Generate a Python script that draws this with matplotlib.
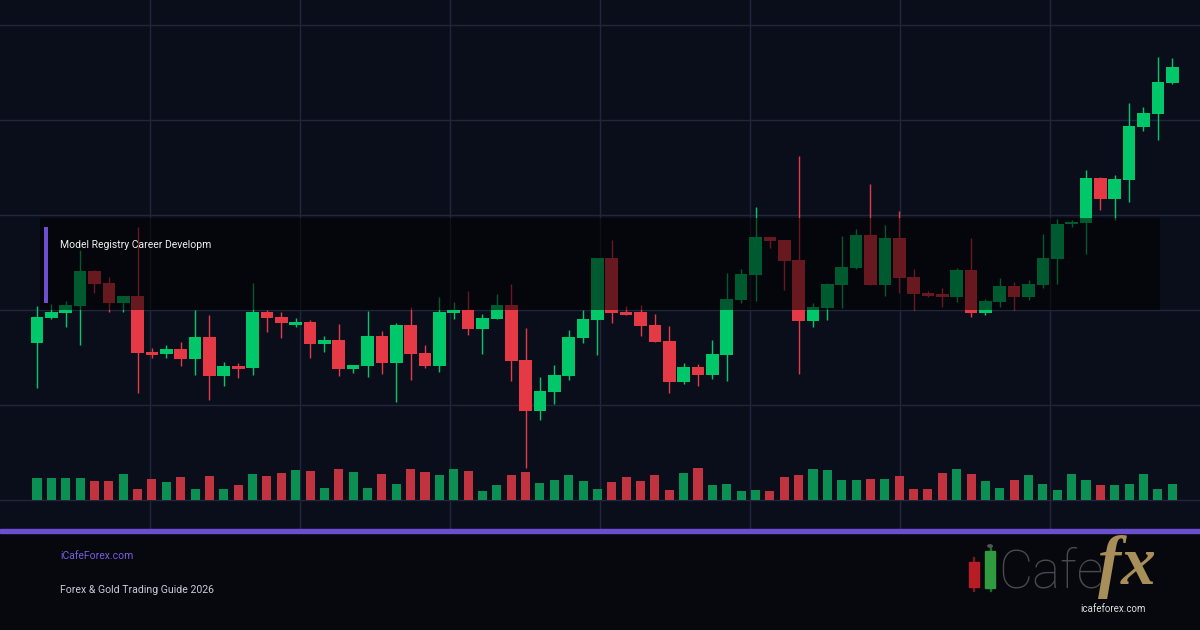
import matplotlib
matplotlib.use('Agg')
import matplotlib.pyplot as plt
import matplotlib.patches as patches
import numpy as np

# Candle data (price units)
opens = [287, 312, 317, 324, 359, 347, 327, 334, 278, 276,
         281, 271, 293, 254, 264, 262, 318, 313, 305, 308,
         286, 290, 261, 264, 294, 267, 305, 277, 264, 317,
         320, 301, 311, 325, 270, 219, 238, 254, 292, 310,
         372, 318, 318, 305, 289, 248, 263, 255, 275, 330,
         355, 393, 390, 370, 309, 322, 345, 362, 395, 345,
         392, 353, 337, 336, 333, 360, 317, 328, 344, 333,
         345, 371, 406, 407, 452, 431, 450, 503, 516, 547]
highs = [324, 326, 329, 380, 360, 353, 334, 403, 282, 285,
         288, 320, 315, 268, 267, 347, 320, 318, 312, 310,
         294, 306, 265, 319, 299, 307, 323, 285, 333, 328,
         339, 316, 336, 346, 302, 253, 265, 300, 320, 372,
         390, 324, 325, 316, 304, 267, 266, 290, 357, 361,
         423, 393, 390, 474, 327, 347, 394, 401, 446, 405,
         419, 361, 339, 342, 362, 392, 331, 352, 348, 350,
         396, 411, 410, 460, 453, 455, 527, 523, 573, 572]
lows = [242, 311, 303, 285, 337, 318, 318, 237, 272, 272,
        264, 255, 230, 244, 252, 255, 298, 292, 303, 272,
        278, 254, 257, 253, 256, 228, 250, 262, 258, 311,
        295, 276, 311, 249, 162, 210, 226, 250, 287, 275,
        307, 315, 294, 288, 237, 246, 244, 251, 249, 327,
        329, 382, 340, 256, 303, 310, 322, 361, 345, 334,
        337, 320, 333, 323, 328, 313, 315, 323, 320, 330,
        342, 346, 403, 376, 420, 410, 428, 499, 490, 546]
closes = [313, 318, 325, 359, 346, 327, 334, 277, 275, 281,
          271, 293, 254, 264, 261, 318, 312, 307, 308, 286,
          290, 261, 265, 294, 267, 305, 276, 264, 318, 320,
          301, 312, 325, 269, 219, 239, 255, 293, 311, 372,
          317, 315, 304, 288, 248, 263, 255, 276, 331, 356,
          393, 389, 369, 309, 323, 346, 363, 395, 345, 392,
          352, 336, 334, 333, 360, 317, 329, 344, 333, 346,
          372, 406, 408, 452, 431, 451, 504, 517, 548, 563]
volumes = [22, 22, 22, 22, 19, 19, 26, 11, 21, 18,
           23, 11, 24, 11, 15, 26, 24, 27, 30, 29,
           12, 31, 28, 12, 26, 16, 31, 28, 25, 31,
           29, 9, 15, 25, 28, 17, 20, 25, 19, 11,
           18, 23, 19, 25, 10, 27, 32, 15, 16, 9,
           10, 9, 23, 25, 31, 30, 20, 20, 21, 21,
           24, 11, 11, 27, 31, 26, 19, 12, 20, 25,
           16, 10, 26, 20, 15, 15, 16, 26, 11, 16]

title = 'Model Registry Career Developm'
site_label = 'iCafeForex.com'
footer_label = 'Forex & Gold Trading Guide 2026'

# Colours
BG = '#0a0e1b'
FOOT_BG = '#06080e'
GRID = '#20273b'
UP = '#00c86a'
DOWN = '#e63946'
UP_VOL = '#0b8f52'
DOWN_VOL = '#c0333f'
PURPLE = '#6b4fcf'
FONT = ['Roboto', 'DejaVu Sans']

W, H = 1200, 630
X0, DX = 37, 14.37  # first candle centre / spacing in pixels

fig = plt.figure(figsize=(12, 6.3), dpi=100, facecolor=BG)


def fx(px):
    return px / W


def fy(py):
    return 1 - py / H


# footer background + purple divider
fig.add_artist(patches.Rectangle((0, 0), 1, fy(531), transform=fig.transFigure,
                                 color=FOOT_BG, zorder=0))
fig.add_artist(patches.Rectangle((0, fy(533)), 1, 4 / H, transform=fig.transFigure,
                                 color=PURPLE, zorder=1))

# price axes: covers the top 530 px
ax = fig.add_axes([0, fy(530), 1, 530 / H])
ax.set_facecolor(BG)
ax.set_xlim(-X0 / DX, (W - X0) / DX)
ax.set_ylim(100, 630)
for s in ax.spines.values():
    s.set_visible(False)
ax.set_xticks([(px - X0) / DX for px in range(150, 1200, 150)])
ax.set_yticks([630 - py for py in (25, 120, 215, 310, 405, 500)])
ax.tick_params(length=0, labelbottom=False, labelleft=False)
ax.grid(True, color=GRID, lw=1)
ax.set_axisbelow(True)

o = np.array(opens)
h = np.array(highs)
l = np.array(lows)
c = np.array(closes)
idx = np.arange(len(o))
up = c >= o
cols = np.where(up, UP, DOWN)

ax.vlines(idx, l, h, colors=cols, lw=1, zorder=2)
body_lo = np.minimum(o, c)
body_h = np.maximum(np.abs(c - o), 2)
ax.bar(idx, body_h, bottom=body_lo, width=0.88, color=cols, zorder=3)

# dim overlay band behind the title
ax.add_patch(patches.Rectangle((fx(40), fy(310)), fx(1160) - fx(40), 92 / H,
                               transform=fig.transFigure, facecolor='black',
                               alpha=0.55, lw=0, zorder=4))
ax.add_patch(patches.Rectangle((fx(44), fy(303)), 3.5 / W, 76 / H,
                               transform=fig.transFigure, facecolor=PURPLE,
                               lw=0, zorder=5))
fig.text(fx(60), fy(245), title, color='#f0f0f0', fontsize=7.5,
         family=FONT, va='center', ha='left', zorder=6)

# volume on a twin axis, baseline on the 500 px grid line
vax = ax.twinx()
vax.set_ylim(-30, 500)
vax.axis('off')
vax.bar(idx, volumes, width=0.63, color=np.where(up, UP_VOL, DOWN_VOL), zorder=2)

# footer text
fig.text(fx(60), fy(556), site_label, color='#7a5ce0', fontsize=7.5,
         family=FONT, va='center', ha='left')
fig.text(fx(60), fy(590), footer_label, color='#c9ccd4', fontsize=7.6,
         family=FONT, va='center', ha='left')

# logo
fig.add_artist(patches.Rectangle((fx(973), fy(591)), 1 / W, 34 / H,
                                 transform=fig.transFigure, color='#7a1a1f'))
fig.add_artist(patches.Rectangle((fx(969), fy(587)), 10 / W, 25 / H,
                                 transform=fig.transFigure, color='#b81d26'))
fig.add_artist(patches.Rectangle((fx(989.5), fy(591)), 1 / W, 46 / H,
                                 transform=fig.transFigure, color='#1e6a2c'))
fig.add_artist(patches.Rectangle((fx(985), fy(588)), 10 / W, 37 / H,
                                 transform=fig.transFigure, color='#2f9a40'))
fig.add_artist(patches.Circle((fx(990), fy(546)), 2.2 / W,
                              transform=fig.transFigure, color='#555555'))
fig.text(fx(998), fy(588), 'Cafe', color='#4a4a4a', fontsize=38,
         family=FONT, fontweight='light', va='baseline', ha='left')
fig.text(fx(1098), fy(584), 'fx', color='#a88e58', fontsize=50,
         family=['Liberation Serif', 'DejaVu Serif'], fontweight='bold', style='italic',
         va='baseline', ha='left')
fig.text(fx(1113), fy(609), 'icafeforex.com', color='#dddddd', fontsize=7,
         family=FONT, va='center', ha='center', zorder=5)

fig.savefig('out.png', dpi=100, facecolor=BG)
